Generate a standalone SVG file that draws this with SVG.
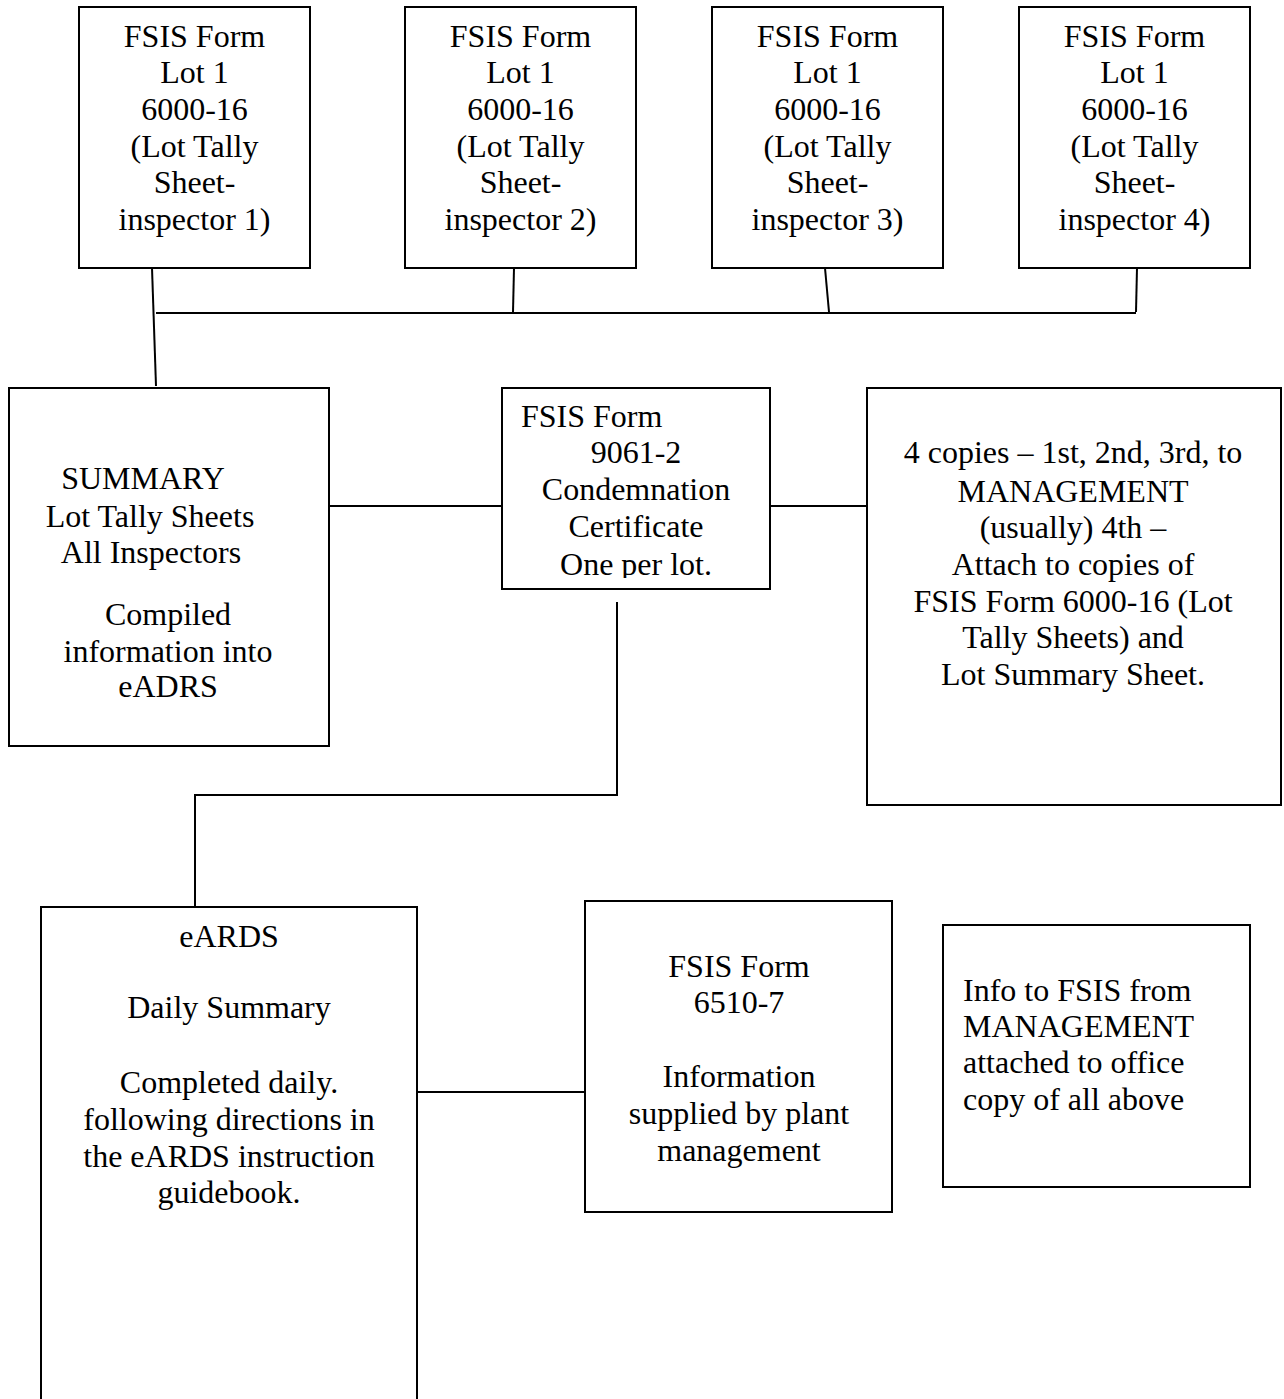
<svg xmlns="http://www.w3.org/2000/svg" width="1284" height="1399" viewBox="0 0 1284 1399">
<style>
.box{fill:#fff;stroke:#000;stroke-width:2}
.ln{fill:none;stroke:#000;stroke-width:2}
text{font-family:"Liberation Serif","Times New Roman",serif;font-size:32px;fill:#000}
.c{text-anchor:middle}
</style>
<defs>
<clipPath id="clip9061"><rect x="502" y="388" width="268" height="190"/></clipPath>
</defs>
<rect width="1284" height="1399" fill="#fff"/>
<g id="connectors">
<path class="ln" d="M152 268 L156 386"/>
<path class="ln" d="M156 313 L1136 313"/>
<path class="ln" d="M514 268 L513 312"/>
<path class="ln" d="M825 268 L829 312"/>
<path class="ln" d="M1137 268 L1136 312"/>
<path class="ln" d="M329 506 L502 506"/>
<path class="ln" d="M770 506 L867 506"/>
<path class="ln" d="M617 602 L617 795 L195 795 L195 910"/>
<path class="ln" d="M416 1092 L590 1092"/>
</g>
<g id="node-insp1">
<rect class="box" x="79" y="7" width="231" height="261"/>
<text class="c" x="194.5" y="47">FSIS Form</text>
<text class="c" x="194.5" y="83">Lot 1</text>
<text class="c" x="194.5" y="120">6000-16</text>
<text class="c" x="194.5" y="157">(Lot Tally</text>
<text class="c" x="194.5" y="193">Sheet-</text>
<text class="c" x="194.5" y="230">inspector 1)</text>
</g>
<g id="node-insp2">
<rect class="box" x="405" y="7" width="231" height="261"/>
<text class="c" x="520.5" y="47">FSIS Form</text>
<text class="c" x="520.5" y="83">Lot 1</text>
<text class="c" x="520.5" y="120">6000-16</text>
<text class="c" x="520.5" y="157">(Lot Tally</text>
<text class="c" x="520.5" y="193">Sheet-</text>
<text class="c" x="520.5" y="230">inspector 2)</text>
</g>
<g id="node-insp3">
<rect class="box" x="712" y="7" width="231" height="261"/>
<text class="c" x="827.5" y="47">FSIS Form</text>
<text class="c" x="827.5" y="83">Lot 1</text>
<text class="c" x="827.5" y="120">6000-16</text>
<text class="c" x="827.5" y="157">(Lot Tally</text>
<text class="c" x="827.5" y="193">Sheet-</text>
<text class="c" x="827.5" y="230">inspector 3)</text>
</g>
<g id="node-insp4">
<rect class="box" x="1019" y="7" width="231" height="261"/>
<text class="c" x="1134.5" y="47">FSIS Form</text>
<text class="c" x="1134.5" y="83">Lot 1</text>
<text class="c" x="1134.5" y="120">6000-16</text>
<text class="c" x="1134.5" y="157">(Lot Tally</text>
<text class="c" x="1134.5" y="193">Sheet-</text>
<text class="c" x="1134.5" y="230">inspector 4)</text>
</g>
<g id="node-summary">
<rect class="box" x="9" y="388" width="320" height="358"/>
<text class="c" x="143" y="489">SUMMARY</text>
<text class="c" x="150" y="527">Lot Tally Sheets</text>
<text class="c" x="151" y="563">All Inspectors</text>
<text class="c" x="168" y="625">Compiled</text>
<text class="c" x="168" y="662">information into</text>
<text class="c" x="168" y="697">eADRS</text>
</g>
<g id="node-9061">
<rect class="box" x="502" y="388" width="268" height="201"/>
<g clip-path="url(#clip9061)">
<text x="521" y="427">FSIS Form</text>
<text class="c" x="636" y="463">9061-2</text>
<text class="c" x="636" y="500">Condemnation</text>
<text class="c" x="636" y="537">Certificate</text>
<text class="c" x="636" y="575">One per lot.</text>
</g>
</g>
<g id="node-copies">
<rect class="box" x="867" y="388" width="414" height="417"/>
<text class="c" x="1073" y="463">4 copies – 1st, 2nd, 3rd, to</text>
<text class="c" x="1073" y="502">MANAGEMENT</text>
<text class="c" x="1073" y="538">(usually) 4th –</text>
<text class="c" x="1073" y="575">Attach to copies of</text>
<text class="c" x="1073" y="612">FSIS Form 6000-16 (Lot</text>
<text class="c" x="1073" y="648">Tally Sheets) and</text>
<text class="c" x="1073" y="685">Lot Summary Sheet.</text>
</g>
<g id="node-eards">
<path class="box" d="M41 1400 L41 907 L417 907 L417 1400"/>
<text class="c" x="229" y="947">eARDS</text>
<text class="c" x="229" y="1018">Daily Summary</text>
<text class="c" x="229" y="1093">Completed daily.</text>
<text class="c" x="229" y="1130">following directions in</text>
<text class="c" x="229" y="1167">the eARDS instruction</text>
<text class="c" x="229" y="1203">guidebook.</text>
</g>
<g id="node-6510">
<rect class="box" x="585" y="901" width="307" height="311"/>
<text class="c" x="739" y="977">FSIS Form</text>
<text class="c" x="739" y="1013">6510-7</text>
<text class="c" x="739" y="1087">Information</text>
<text class="c" x="739" y="1124">supplied by plant</text>
<text class="c" x="739" y="1161">management</text>
</g>
<g id="node-info">
<rect class="box" x="943" y="925" width="307" height="262"/>
<text x="963" y="1001">Info to FSIS from</text>
<text x="963" y="1037">MANAGEMENT</text>
<text x="963" y="1073">attached to office</text>
<text x="963" y="1110">copy of all above</text>
</g>
</svg>
